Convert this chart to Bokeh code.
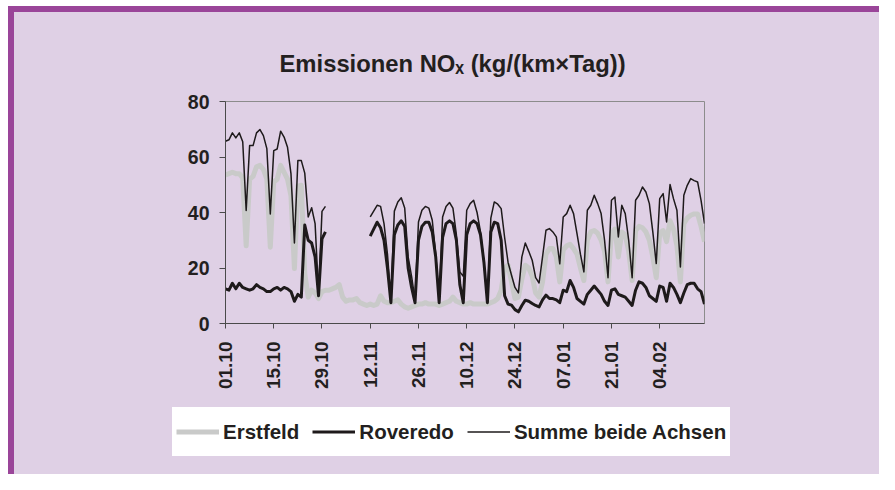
import math
import numpy as np
from bokeh.plotting import figure
from bokeh.layouts import column
from bokeh.models import (ColumnDataSource, Range1d, FixedTicker, Legend, LegendItem, Title)
from bokeh.embed import file_html
from bokeh.resources import INLINE

# ---------------- data (daily values, day 0 = 01.10) ----------------
days = list(range(140))
tick_days = [0, 14, 28, 42, 56, 70, 84, 98, 112, 126]
tick_labels = ["01.10", "15.10", "29.10", "12.11", "26.11", "10.12",
               "24.12", "07.01", "21.01", "04.02"]
y_ticks = [0, 20, 40, 60, 80]

erstfeld = [
    53.5, 54.0, 54.5, 54.0, 54.0, 52.5, 28.0,
    52.0, 53.0, 56.5, 57.0, 55.5, 52.0, 27.5,
    51.0, 52.0, 57.0, 54.5, 52.0, 46.0, 19.8,
    49.5, 49.8, 18.0, 9.5, 12.0, 11.0, 9.0,
    11.5, 12.0, 12.0, 12.5, 13.0, 14.0, 9.5,
    8.0, 8.5, 8.5, 9.0, 7.5, 7.0, 6.5,
    7.0, 6.5, 7.0, 10.0, 8.0, 7.5, 7.5,
    8.0, 8.5, 7.0, 6.0, 5.5, 6.0, 6.5,
    7.0, 7.0, 7.5, 7.0, 7.0, 7.0, 6.5,
    7.0, 7.5, 8.0, 9.5, 8.0, 7.5, 7.0,
    7.0, 7.5, 7.0, 7.0, 7.0, 7.0, 7.0,
    7.5, 8.0, 9.0, 12.0, 20.0, 21.0, 15.0,
    9.0, 9.5, 16.0, 21.0, 20.0, 17.0, 11.0,
    9.5, 15.0, 25.0, 27.0, 27.0, 24.0, 15.0,
    26.5, 28.0, 28.5, 27.0, 25.0, 20.0, 15.5,
    30.0, 33.0, 33.5, 32.5, 30.0, 26.0, 15.0,
    32.5, 34.0, 24.0, 33.0, 32.0, 26.0, 15.5,
    33.5, 35.0, 34.5, 33.0, 30.0, 24.0, 16.5,
    32.5, 33.5, 29.5, 37.0, 34.0, 28.0, 15.0,
    36.0, 38.0, 39.0, 39.5, 39.5, 35.0, 29.5,
]

roveredo = [
    12.5, 12.0, 14.5, 12.5, 14.5, 13.0, 12.5,
    12.0, 12.5, 14.0, 13.0, 12.5, 11.5, 11.5,
    12.5, 13.0, 12.0, 13.0, 12.5, 11.5, 8.0,
    10.5, 9.5, 35.5, 30.0, 29.0, 24.0, 10.0,
    30.5, 33.0, None, None, None, None, None,
    None, None, None, None, None, None, None,
    31.5, 34.0, 36.5, 34.5, 30.0, 20.0, 7.5,
    32.0, 35.5, 37.0, 35.0, 20.0, 13.0, 7.5,
    30.0, 35.0, 36.5, 36.5, 33.0, 24.0, 7.5,
    31.0, 36.0, 37.0, 36.0, 30.0, 14.0, 7.5,
    32.0, 36.0, 37.0, 36.0, 32.0, 22.0, 7.5,
    33.0, 36.5, 36.0, 30.0, 10.0, 7.0, 6.6,
    5.0, 4.2, 6.5, 8.4, 8.0, 7.2, 6.5,
    6.0, 8.5, 10.2, 9.0, 9.0, 8.5, 7.5,
    12.0, 11.5, 15.5, 13.0, 9.0, 8.0, 7.0,
    10.5, 12.0, 13.5, 12.0, 10.5, 8.0, 6.5,
    12.0, 12.5, 10.5, 10.0, 9.5, 8.0, 6.5,
    12.0, 15.0, 14.5, 13.0, 10.0, 9.0, 8.0,
    13.5, 13.0, 8.0, 14.5, 13.0, 10.5, 7.5,
    11.0, 14.0, 14.5, 14.5, 12.5, 11.5, 7.0,
]

summe = [
    65.7, 66.2, 68.7, 66.9, 68.7, 65.5, 40.7,
    64.1, 64.1, 68.7, 69.9, 67.7, 63.0, 39.5,
    62.3, 62.9, 69.3, 67.2, 63.5, 54.0, 29.0,
    58.7, 58.7, 54.2, 38.4, 41.7, 36.0, 11.0,
    40.4, 42.2, None, None, None, None, None,
    None, None, None, None, None, None, None,
    38.4, 40.5, 42.6, 42.2, 36.0, 25.0, 8.5,
    40.5, 43.8, 45.3, 41.6, 24.0, 17.0, 8.5,
    36.6, 40.8, 42.2, 41.6, 37.2, 25.0, 8.5,
    38.4, 42.2, 43.6, 41.6, 32.0, 18.6, 17.0,
    40.8, 43.2, 44.4, 40.0, 33.0, 22.0, 8.0,
    38.0, 43.8, 43.0, 41.4, 31.0, 22.0, 17.4,
    13.0, 11.0, 24.0, 29.0, 26.0, 22.8, 16.5,
    14.6, 24.0, 33.6, 34.2, 33.0, 31.2, 21.5,
    38.4, 39.6, 42.6, 39.6, 32.4, 25.0, 18.6,
    40.8, 42.6, 46.2, 43.2, 39.6, 30.0, 16.5,
    44.4, 45.6, 31.2, 42.6, 39.6, 30.0, 16.5,
    44.4, 46.2, 49.2, 47.4, 43.2, 33.0, 21.6,
    45.0, 46.8, 36.6, 50.1, 45.0, 40.8, 20.4,
    46.2, 49.8, 52.2, 51.5, 51.0, 44.4, 36.0,
]

series_names = ["Erstfeld", "Roveredo", "Summe beide Achsen"]
title_text = "Emissionen NO\u2093 (kg/(km\u00d7Tag))"

# ---------------- style ----------------
W = 865                   # inner width (8px white margin + 6px purple border on the left)
H1, H2 = 395, 67          # chart part / legend part (6px margin + 6px border on top)
BG = "#DFD0E5"
PURPLE = "#9A4599"
TEXT = "#231F20"
GREY = "#C9CAC9"
BLACK = "#1E1A1B"
FONT = "Liberation Sans"
styles = [dict(color=GREY, width=5), dict(color=BLACK, width=3), dict(color=BLACK, width=1.5)]
cols = ["e", "r", "s"]

FL, FW, FT, FH = 211, 479, 89, 222   # frame left / width / top / height

p = figure(width=W, height=H1, output_backend="svg", toolbar_location=None,
           x_range=Range1d(0, 139), y_range=Range1d(0, 80),
           min_border_left=FL, min_border_right=W - FL - FW,
           min_border_top=FT, min_border_bottom=H1 - FT - FH,
           background_fill_color=BG, border_fill_color=BG, title=None)
p.frame_align = False

p.xgrid.visible = False
p.ygrid.visible = False
p.outline_line_color = "#8C8C8C"
p.outline_line_width = 1

src = ColumnDataSource(dict(day=days,
                            e=np.array(erstfeld, dtype=float),
                            r=np.array(roveredo, dtype=float),
                            s=np.array(summe, dtype=float)))

for col, st in zip(cols, styles):
    p.line("day", col, source=src, line_color=st["color"], line_width=st["width"],
           line_join="round")

# axes
for ax in (p.xaxis, p.yaxis):
    ax.axis_line_color = "#4A4A4A"
    ax.major_tick_line_color = "#4A4A4A"
    ax.major_tick_in = 0
    ax.minor_tick_in = 0
    ax.minor_tick_out = 0
    ax.major_label_text_font = FONT
    ax.major_label_text_font_style = "bold"
    ax.major_label_text_color = TEXT

p.yaxis.ticker = FixedTicker(ticks=y_ticks)
p.yaxis.major_tick_out = 6
p.yaxis.major_label_standoff = 10
p.yaxis.major_label_text_font_size = "19.5px"

p.xaxis.ticker = FixedTicker(ticks=tick_days)
p.xaxis.major_label_overrides = dict(zip(tick_days, tick_labels))
p.xaxis.major_tick_out = 5
p.xaxis.major_label_standoff = 13
p.xaxis.major_label_orientation = math.pi / 2
p.xaxis.major_label_text_font_size = "19px"

# title
p.add_layout(Title(text=title_text, align="left", offset=54, standoff=50,
                   text_font=FONT, text_font_style="bold", text_font_size="23.8px",
                   text_color=TEXT), "above")

# legend strip (separate small figure so the legend is not clipped by the chart frame);
# its renderers use the same data but lie outside its (empty) ranges
q = figure(width=W, height=H2, output_backend="svg", toolbar_location=None,
           x_axis_type=None, y_axis_type=None,
           x_range=Range1d(0, 1), y_range=Range1d(-2, -1),
           min_border=0, min_border_left=0, min_border_right=0, min_border_top=0,
           min_border_bottom=0, background_fill_color=BG, border_fill_color=BG, title=None)
q.frame_align = False
q.outline_line_color = None
q.grid.visible = False

items = []
for name, col, st in zip(series_names, cols, styles):
    rr = q.line("day", col, source=src, line_color=st["color"], line_width=st["width"])
    items.append(LegendItem(label=name, renderers=[rr]))

legend = Legend(items=items, location=(158, 18), orientation="horizontal",
                background_fill_color="white", background_fill_alpha=1.0,
                border_line_alpha=0, padding=4, spacing=13, margin=0,
                glyph_width=43, glyph_height=41, label_height=41, label_standoff=4,
                label_text_font=FONT, label_text_font_style="bold",
                label_text_font_size="20.5px", label_text_color=TEXT)
q.add_layout(legend)

layout = column(p, q, spacing=0,
                styles={"margin-left": "8px", "margin-top": "6px",
                        "background-color": BG,
                        "border-left": "6px solid " + PURPLE,
                        "border-top": "6px solid " + PURPLE})

open("out.html", "w").write(file_html(layout, INLINE))
